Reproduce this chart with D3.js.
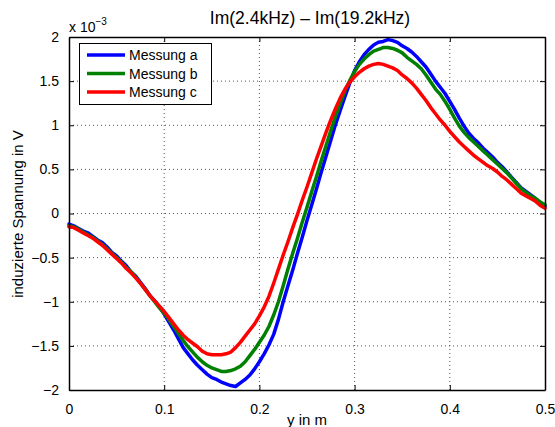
<!DOCTYPE html>
<html><head><meta charset="utf-8">
<script src="https://cdn.jsdelivr.net/npm/d3@7"></script>
<style>body{margin:0;background:#fff}svg{display:block}text{font-family:Arial,"Liberation Sans",Helvetica,sans-serif;fill:#000}</style>
</head><body><svg id="c" width="555" height="427"></svg>
<script>
const xs = [0.000,0.005,0.010,0.015,0.020,0.025,0.030,0.035,0.040,0.045,0.050,0.055,0.060,0.065,0.070,0.075,0.080,0.085,0.090,0.095,
0.100,0.105,0.110,0.115,0.120,0.125,0.130,0.135,0.140,0.145,0.150,0.155,0.160,0.165,0.170,0.175,0.180,0.185,0.190,0.195,
0.200,0.205,0.210,0.215,0.220,0.225,0.230,0.235,0.240,0.245,0.250,0.255,0.260,0.265,0.270,0.275,0.280,0.285,0.290,0.295,
0.300,0.305,0.310,0.315,0.320,0.325,0.330,0.335,0.340,0.345,0.350,0.355,0.360,0.365,0.370,0.375,0.380,0.385,0.390,0.395,
0.400,0.405,0.410,0.415,0.420,0.425,0.430,0.435,0.440,0.445,0.450,0.455,0.460,0.465,0.470,0.475,0.480,0.485,0.490,0.495,0.500];
const messungA = [-0.12,-0.14,-0.17,-0.20,-0.22,-0.26,-0.30,-0.33,-0.38,-0.44,-0.48,-0.54,-0.59,-0.66,-0.71,-0.78,-0.85,-0.93,-0.99,-1.06,
-1.14,-1.23,-1.32,-1.42,-1.52,-1.59,-1.66,-1.72,-1.77,-1.82,-1.86,-1.88,-1.91,-1.93,-1.95,-1.96,-1.92,-1.88,-1.83,-1.76,
-1.68,-1.59,-1.49,-1.37,-1.20,-1.00,-0.82,-0.64,-0.45,-0.27,-0.08,0.10,0.28,0.47,0.65,0.83,1.01,1.17,1.33,1.48,
1.62,1.72,1.80,1.86,1.91,1.94,1.95,1.97,1.96,1.94,1.90,1.87,1.83,1.78,1.72,1.66,1.58,1.50,1.43,1.36,
1.27,1.18,1.08,0.99,0.91,0.85,0.80,0.74,0.69,0.64,0.58,0.53,0.47,0.41,0.35,0.29,0.25,0.21,0.17,0.12,0.08];
const messungB = [-0.14,-0.15,-0.18,-0.21,-0.24,-0.27,-0.31,-0.35,-0.40,-0.45,-0.50,-0.55,-0.61,-0.66,-0.72,-0.79,-0.86,-0.93,-1.00,-1.07,
-1.13,-1.20,-1.28,-1.36,-1.44,-1.51,-1.57,-1.63,-1.68,-1.72,-1.75,-1.77,-1.79,-1.79,-1.78,-1.76,-1.73,-1.68,-1.61,-1.54,
-1.46,-1.38,-1.28,-1.15,-1.00,-0.82,-0.63,-0.45,-0.28,-0.10,0.07,0.25,0.42,0.60,0.77,0.94,1.10,1.25,1.39,1.51,
1.61,1.69,1.75,1.80,1.84,1.86,1.88,1.88,1.87,1.85,1.82,1.77,1.73,1.69,1.64,1.57,1.49,1.41,1.35,1.27,
1.18,1.08,0.99,0.92,0.86,0.81,0.76,0.71,0.66,0.61,0.56,0.51,0.46,0.40,0.34,0.28,0.24,0.20,0.17,0.13,0.10];
const messungC = [-0.15,-0.16,-0.19,-0.22,-0.25,-0.28,-0.32,-0.36,-0.41,-0.46,-0.51,-0.56,-0.62,-0.67,-0.73,-0.79,-0.86,-0.93,-0.99,-1.05,
-1.11,-1.18,-1.25,-1.32,-1.38,-1.43,-1.47,-1.51,-1.56,-1.59,-1.60,-1.60,-1.60,-1.59,-1.57,-1.52,-1.46,-1.39,-1.32,-1.25,
-1.16,-1.06,-0.94,-0.79,-0.63,-0.47,-0.32,-0.16,-0.01,0.15,0.30,0.46,0.62,0.77,0.92,1.06,1.19,1.31,1.41,1.49,
1.55,1.60,1.64,1.67,1.69,1.70,1.69,1.67,1.65,1.62,1.57,1.53,1.48,1.42,1.35,1.28,1.20,1.13,1.06,1.00,
0.93,0.87,0.81,0.76,0.71,0.66,0.62,0.58,0.54,0.51,0.47,0.42,0.38,0.33,0.28,0.23,0.20,0.17,0.14,0.09,0.06];
const seriesNames = ["Messung a","Messung b","Messung c"];
const seriesColors = ["#0000ff","#008000","#ff0000"];
const xTicks = [0,0.1,0.2,0.3,0.4,0.5];
const xTickLabels = ["0","0.1","0.2","0.3","0.4","0.5"];
const yTicks = [-2,-1.5,-1,-0.5,0,0.5,1,1.5,2];
const yTickLabels = ["\u22122","\u22121.5","\u22121","\u22120.5","0","0.5","1","1.5","2"];
const titleText = "Im(2.4kHz) \u2013 Im(19.2kHz)";
const xLabel = "y in m";
const yLabel = "induzierte Spannung in V";

const L=69, R=545, T=37, B=390;
const svg = d3.select("#c");
const x = d3.scaleLinear().domain([0,0.5]).range([L,R]);
const y = d3.scaleLinear().domain([-2,2]).range([B,T]);

// grid
const g = svg.append("g");
g.selectAll(".gx").data(xTicks.slice(1,-1)).enter().append("line")
 .attr("x1",d=>x(d)).attr("x2",d=>x(d)).attr("y1",T).attr("y2",B)
 .attr("stroke","#555").attr("stroke-width",1).attr("stroke-dasharray","1,3");
g.selectAll(".gy").data(yTicks.slice(1,-1)).enter().append("line")
 .attr("y1",d=>y(d)).attr("y2",d=>y(d)).attr("x1",L).attr("x2",R)
 .attr("stroke","#555").attr("stroke-width",1).attr("stroke-dasharray","1,3");

// lines
const all = [messungA,messungB,messungC];
const line = d3.line().x((d,i)=>x(xs[i])).y(d=>y(d));
all.forEach((s,k)=>{
  svg.append("path").datum(s).attr("d",line).attr("fill","none")
    .attr("stroke",seriesColors[k]).attr("stroke-width",3.5).attr("stroke-linejoin","round").attr("stroke-linecap","round");
});

// axes (MATLAB style: inward ticks, box)
const axB = d3.axisBottom(x).tickValues(xTicks).tickFormat((d,i)=>xTickLabels[i]).tickSizeInner(-5).tickSizeOuter(0).tickPadding(14);
const axT = d3.axisTop(x).tickValues(xTicks).tickFormat("").tickSizeInner(-5).tickSizeOuter(0);
const axLft = d3.axisLeft(y).tickValues(yTicks).tickFormat((d,i)=>yTickLabels[i]).tickSizeInner(-5).tickSizeOuter(0).tickPadding(10);
const axRgt = d3.axisRight(y).tickValues(yTicks).tickFormat("").tickSizeInner(-5).tickSizeOuter(0);
function style(sel){
  sel.select(".domain").attr("stroke","#000").attr("stroke-width",1.5);
  sel.selectAll(".tick line").attr("stroke","#000").attr("stroke-width",1);
  sel.selectAll(".tick text").attr("font-size",14).attr("fill","#000").attr("font-family","Arial, Liberation Sans, sans-serif");
}
svg.append("g").attr("transform",`translate(0,${B})`).call(axB).call(style);
svg.append("g").attr("transform",`translate(0,${T})`).call(axT).call(style);
svg.append("g").attr("transform",`translate(${L},0)`).call(axLft).call(style);
svg.append("g").attr("transform",`translate(${R},0)`).call(axRgt).call(style);

// exponent
const ex = svg.append("text").attr("x",69).attr("y",32).attr("font-size",14);
ex.append("tspan").text("x 10");
ex.append("tspan").attr("dy",-7).attr("font-size",10).text("\u22123");

// title & labels
svg.append("text").attr("x",310).attr("y",24).attr("text-anchor","middle").attr("font-size",17.5).text(titleText);
svg.append("text").attr("x",307).attr("y",425).attr("text-anchor","middle").attr("font-size",15).text(xLabel);
svg.append("text").attr("transform","translate(23,214) rotate(-90)").attr("text-anchor","middle").attr("font-size",15).text(yLabel);

// legend
const lg = svg.append("g");
lg.append("rect").attr("x",79.5).attr("y",43.5).attr("width",132).attr("height",61).attr("fill","#fff").attr("stroke","#000").attr("stroke-width",1);
seriesNames.forEach((n,k)=>{
  const yy = 55 + k*18.5;
  lg.append("line").attr("x1",87).attr("x2",125).attr("y1",yy).attr("y2",yy).attr("stroke",seriesColors[k]).attr("stroke-width",3.5);
  lg.append("text").attr("x",129).attr("y",yy+5).attr("font-size",14).text(n);
});
</script></body></html>
